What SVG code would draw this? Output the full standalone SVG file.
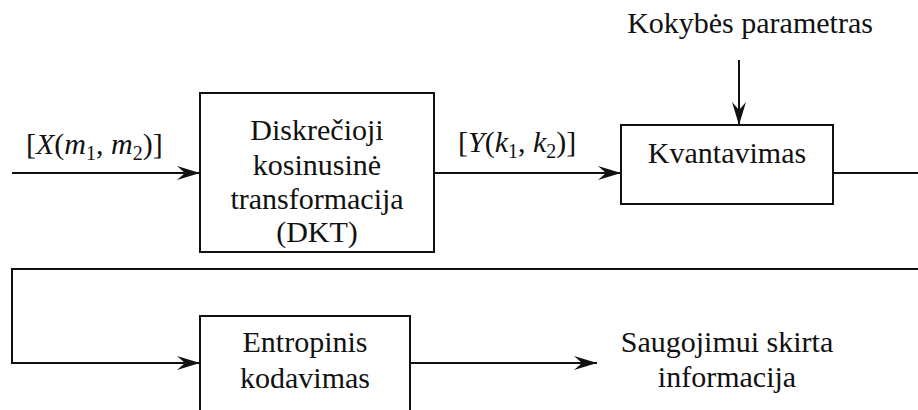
<svg xmlns="http://www.w3.org/2000/svg" width="918" height="410" viewBox="0 0 918 410">
<defs>
<style>
.box{fill:#fff;stroke:#111;stroke-width:2}
.ln{fill:none;stroke:#111;stroke-width:2}
text{font-family:'Liberation Serif','DejaVu Serif',serif;font-size:30px;fill:#111}
.c{text-anchor:middle}
.i{font-style:italic}
.s{font-size:20px}
</style>
<marker id="ah" viewBox="-23 -8 24 16" refX="0" refY="0" markerWidth="24" markerHeight="16" markerUnits="userSpaceOnUse" orient="auto">
<path d="M0,0 L-23,-7 L-15,0 L-23,7 Z" fill="#111"/>
</marker>
</defs>
<rect width="918" height="410" fill="#fff"/>
<g id="connectors">
<line class="ln" x1="12" y1="173" x2="200" y2="173" marker-end="url(#ah)"/>
<line class="ln" x1="434" y1="173" x2="621" y2="173" marker-end="url(#ah)"/>
<line class="ln" x1="739" y1="60" x2="739" y2="125" marker-end="url(#ah)"/>
<line class="ln" x1="833" y1="173" x2="918" y2="173"/>
<polyline class="ln" points="918,269 12,269 12,363 200,363" marker-end="url(#ah)"/>
<line class="ln" x1="410" y1="363" x2="597" y2="363" marker-end="url(#ah)"/>
</g>
<g font-family="'Liberation Serif', 'DejaVu Serif', serif">
<g id="dkt">
<rect class="box" x="200" y="93" width="234" height="159"/>
<text class="c" x="317" y="140" font-family="Liberation Serif">Diskrečioji</text>
<text class="c" x="317" y="175" font-family="Liberation Serif">kosinusinė</text>
<text class="c" x="317" y="209" font-family="Liberation Serif">transformacija</text>
<text class="c" x="317" y="242" font-family="Liberation Serif">(DKT)</text>
</g>
<g id="kvant">
<rect class="box" x="621" y="125" width="212" height="79"/>
<text class="c" x="727" y="163" font-family="Liberation Serif">Kvantavimas</text>
</g>
<g id="entrop">
<rect class="box" x="200" y="316" width="210" height="110"/>
<text class="c" x="305" y="352" font-family="Liberation Serif">Entropinis</text>
<text class="c" x="305" y="388" font-family="Liberation Serif">kodavimas</text>
</g>
<g id="kokybes">
<text class="c" x="750" y="33" font-family="Liberation Serif">Kokybės parametras</text>
</g>
<g id="saugojimui">
<text class="c" x="727" y="352" font-family="Liberation Serif">Saugojimui skirta</text>
<text class="c" x="727" y="387" font-family="Liberation Serif">informacija</text>
</g>
<g id="labels">
<text x="26" y="154" font-family="Liberation Serif">[<tspan class="i">X</tspan>(<tspan class="i">m</tspan><tspan class="s" dy="6">1</tspan><tspan dy="-6">, </tspan><tspan class="i">m</tspan><tspan class="s" dy="6">2</tspan><tspan dy="-6">)]</tspan></text>
<text x="458" y="152" font-family="Liberation Serif">[<tspan class="i">Y</tspan>(<tspan class="i">k</tspan><tspan class="s" dy="6">1</tspan><tspan dy="-6">, </tspan><tspan class="i">k</tspan><tspan class="s" dy="6">2</tspan><tspan dy="-6">)]</tspan></text>
</g>
</g>
</svg>
